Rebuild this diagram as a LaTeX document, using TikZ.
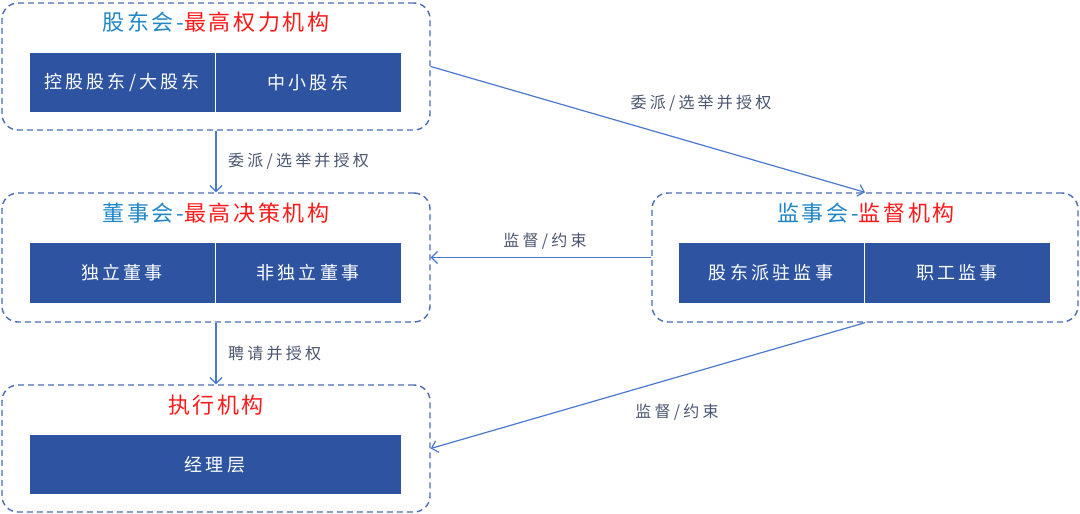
\documentclass[tikz,border=0pt]{standalone}
\usepackage{fontspec}
\setmainfont{Noto Sans CJK SC}
\newfontfamily\grptitlefont{Noto Sans CJK SC}[LetterSpace=12]
\newfontfamily\cellfont{Noto Sans CJK SC}[LetterSpace=18]
\newfontfamily\lblfont{Noto Sans CJK SC}[LetterSpace=20]
\usetikzlibrary{arrows.meta}
\definecolor{dashblue}{HTML}{4A6DB5}
\definecolor{fillblue}{HTML}{2E54A1}
\definecolor{arrowblue}{HTML}{4A78D0}
\definecolor{titleblue}{HTML}{1F86C8}
\definecolor{titlered}{HTML}{FF1A1A}
\definecolor{labelgray}{HTML}{4A5570}
\tikzset{
  group/.style={draw=dashblue, line width=1.4pt, dash pattern=on 6pt off 4pt, rounded corners=16pt, inner sep=0pt},
  cell/.style={fill=fillblue, draw=white, line width=1pt, text=white, inner sep=0pt, font=\cellfont\fontsize{18}{22}\selectfont},
  grouptitle/.style={font=\grptitlefont\fontsize{22}{26}\selectfont},
  conn/.style={draw=arrowblue, line width=1.2pt, -{Straight Barb[length=6pt,width=12pt]}},
  lbl/.style={text=labelgray, font=\lblfont\fontsize{16}{19}\selectfont, inner sep=0pt}
}
\begin{document}
\begin{tikzpicture}[x=1pt,y=-1pt]
\useasboundingbox (0,0) rectangle (1080,514);
% group frames
\node[group, minimum width=428pt, minimum height=127pt] (b1) at (216,66.5) {};
\node[group, minimum width=428pt, minimum height=129pt] (b2) at (216,257.5) {};
\node[group, minimum width=426pt, minimum height=129pt] (b3) at (865,257.5) {};
\node[group, minimum width=428pt, minimum height=127pt] (b4) at (216,448.5) {};
% titles
\node[grouptitle] (t1) at (216,22) {\textcolor{titleblue}{股东会-}\textcolor{titlered}{最高权力机构}};
\node[grouptitle] (t2) at (216,213) {\textcolor{titleblue}{董事会-}\textcolor{titlered}{最高决策机构}};
\node[grouptitle] (t3) at (866,213) {\textcolor{titleblue}{监事会-}\textcolor{titlered}{监督机构}};
\node[grouptitle] (t4) at (216,405) {\textcolor{titlered}{执行机构}};
% cells
\node[cell, minimum width=186pt, minimum height=60pt] (c11) at (122,82.5) {控股股东/大股东};
\node[cell, minimum width=186pt, minimum height=60pt] (c12) at (308,82.5) {中小股东};
\node[cell, minimum width=186pt, minimum height=61pt] (c21) at (122,273) {独立董事};
\node[cell, minimum width=186pt, minimum height=61pt] (c22) at (308,273) {非独立董事};
\node[cell, minimum width=186pt, minimum height=61pt] (c31) at (771,273) {股东派驻监事};
\node[cell, minimum width=186pt, minimum height=61pt] (c32) at (957,273) {职工监事};
\node[cell, minimum width=372pt, minimum height=60pt] (c41) at (215,464.5) {经理层};
% connectors
\draw[conn] (b1.south) -- (b2.north);
\draw[conn] (b1.east) -- (b3.north);
\draw[conn] (b3.west) -- (b2.east);
\draw[conn] (b2.south) -- (b4.north);
\draw[conn] (b3.south) -- (b4.east);
% labels
\node[lbl, anchor=west] (l1) at (228,161) {委派/选举并授权};
\node[lbl] (l2) at (701,103) {委派/选举并授权};
\node[lbl] (l3) at (545,241) {监督/约束};
\node[lbl, anchor=west] (l4) at (228,353) {聘请并授权};
\node[lbl] (l5) at (677,412) {监督/约束};
\end{tikzpicture}
\end{document}
